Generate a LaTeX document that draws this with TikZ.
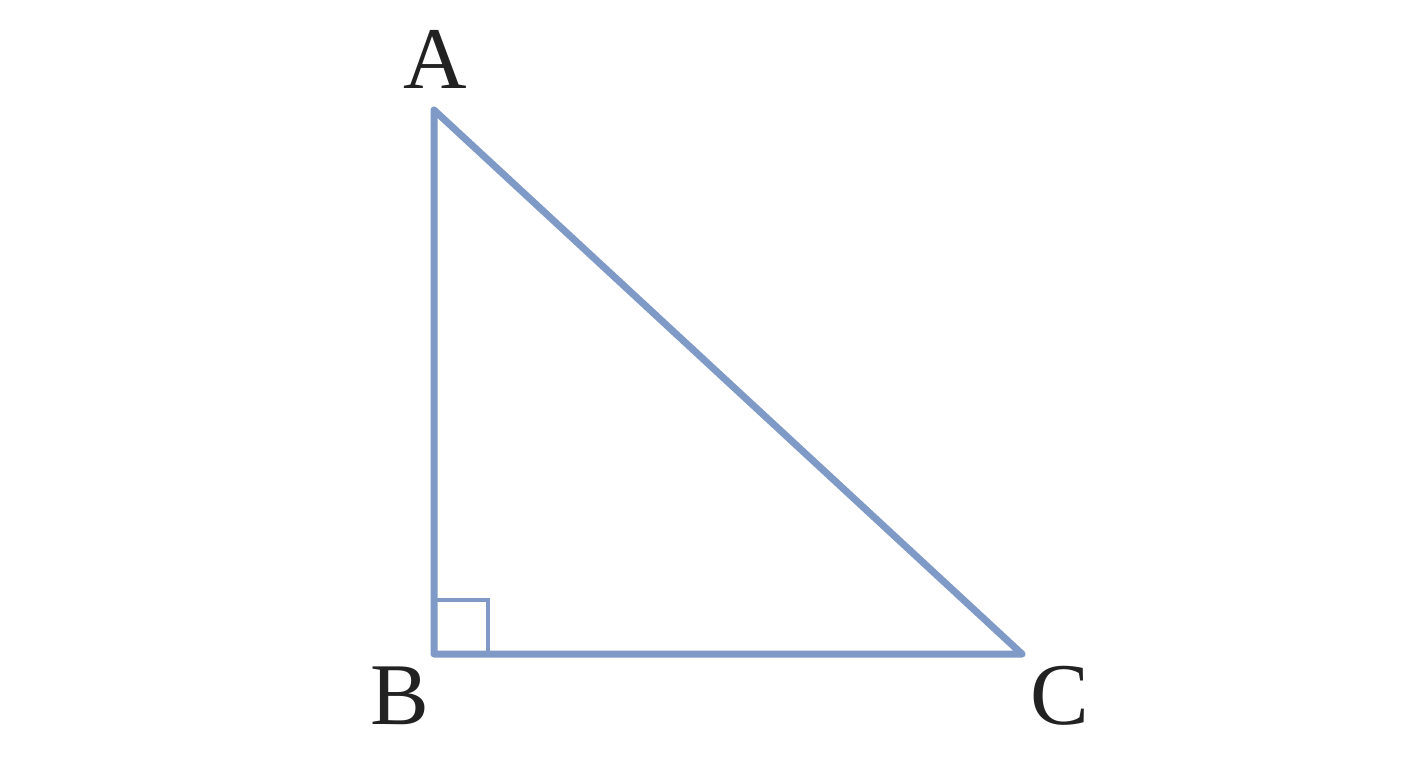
\documentclass[tikz,border=0pt]{standalone}
\usepackage{fontspec}
\setmainfont{Liberation Serif}
\usepackage{tikz}
\usetikzlibrary{positioning}
\definecolor{sideblue}{HTML}{7F9AC6}
\definecolor{labelgray}{HTML}{222222}

\begin{document}
\begin{tikzpicture}[x=0.5pt,y=-0.5pt,
  side/.style={draw=sideblue,line width=3.5pt,line join=round,line cap=round},
  rightmark/.style={draw=sideblue,line width=2pt},
  vlabel/.style={inner sep=0pt,text=labelgray,font=\fontsize{44}{44}\selectfont}]
\useasboundingbox (0,0) rectangle (1408,768);
% vertices of the triangle
\coordinate (A) at (434,110);
\coordinate (B) at (434,654);
\coordinate (C) at (1022,654);
% right angle mark at B
\draw[rightmark] (434,600) -- (488,600) -- (488,654);
% sides
\draw[side] (A) -- (B) -- (C) -- cycle;
% vertex labels
\node[vlabel] (labA) at (435,59) {A};
\node[vlabel] (labB) at (400,696) {B};
\node[vlabel] (labC) at (1060,696) {C};
\end{tikzpicture}
\end{document}
